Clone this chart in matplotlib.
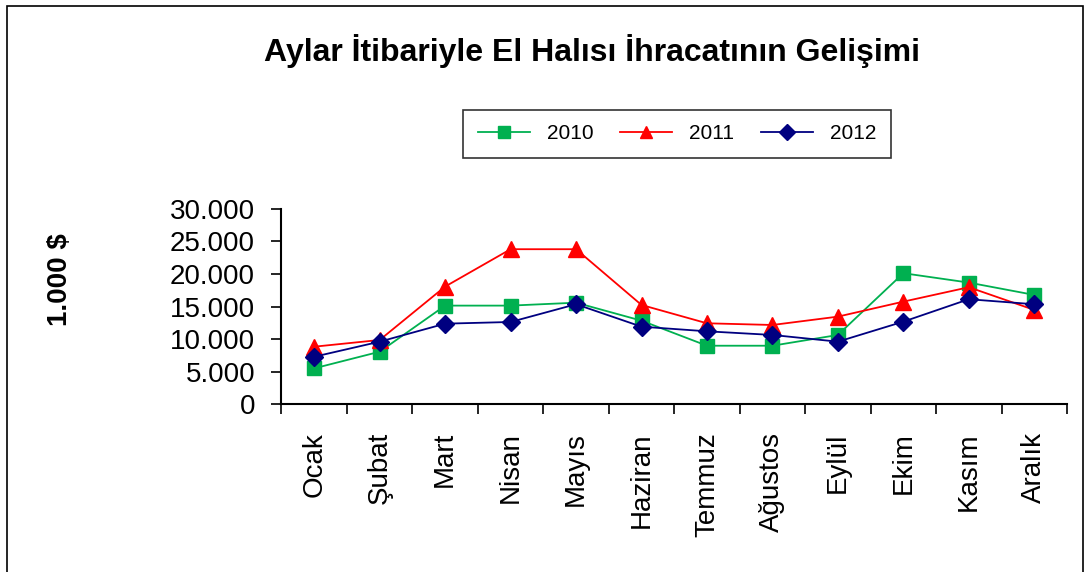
import matplotlib
matplotlib.use("Agg")
from matplotlib import pyplot as plt
from matplotlib.patches import Rectangle
from matplotlib.ticker import FuncFormatter
import numpy as np

plt.rcParams['font.family'] = ['Liberation Sans', 'DejaVu Sans']

months = ["Ocak", "Şubat", "Mart", "Nisan", "Mayıs", "Haziran",
          "Temmuz", "Ağustos", "Eylül", "Ekim", "Kasım", "Aralık"]
y2010 = [5530, 8080, 15150, 15150, 15600, 12840, 9000, 9000, 10650, 20120, 18680, 16790]
y2011 = [8850, 9880, 18070, 23800, 23800, 15250, 12440, 12180, 13460, 15760, 17970, 14490]
y2012 = [7310, 9620, 12380, 12640, 15360, 11920, 11210, 10650, 9620, 12690, 16130, 15360]

fig = plt.figure(figsize=(10.91, 5.72), dpi=100)
ax = fig.add_axes([0.258, 0.293, 0.72, 0.342])

x = np.arange(len(months))
ax.plot(x, y2010, color="#00B050", marker="s", markersize=10, lw=1.3, label="2010")
ax.plot(x, y2011, color="#FF0000", marker="^", markersize=12, lw=1.3, label="2011")
ax.plot(x, y2012, color="#000080", marker="D", markersize=9, lw=1.3, label="2012")

ax.set_xlim(-0.5, 11.5)
ax.set_ylim(0, 30000)
ax.set_yticks(range(0, 30001, 5000))
ax.yaxis.set_major_formatter(FuncFormatter(lambda v, p: f"{int(v):,}".replace(",", ".")))
ax.set_xticks(x)
ax.set_xticklabels(months, rotation=90, fontsize=20)
ax.set_xticks(np.arange(-0.5, 12, 1), minor=True)
ax.tick_params(axis="x", which="major", length=0, pad=20)
ax.tick_params(axis="x", which="minor", length=7, width=1.2, direction="out")
ax.tick_params(axis="y", labelsize=20, length=7, width=1.2, pad=12)
for s in ["top", "right"]:
    ax.spines[s].set_visible(False)
for s in ["left", "bottom"]:
    ax.spines[s].set_linewidth(1.5)

ax.set_ylabel("1.000 $", fontsize=20, fontweight="bold")
ax.yaxis.set_label_coords(-0.265, 0.636)

fig.text(0.543, 0.91, "Aylar İtibariyle El Halısı İhracatının Gelişimi",
         ha="center", va="center", fontsize=23, fontweight="bold")

leg = fig.legend(loc="center", bbox_to_anchor=(0.6205, 0.766), ncol=3, fontsize=15,
                 frameon=True, fancybox=False, edgecolor="black", handlelength=2.5,
                 columnspacing=1.3, borderpad=0.7)
leg.get_frame().set_linewidth(1.2)
for h in leg.legend_handles:
    h.set_markersize(8)

fig.patches.append(Rectangle((0.006, -0.1), 0.987, 1.09, transform=fig.transFigure,
                             fill=False, edgecolor="black", lw=1.2))

fig.savefig("out.png", dpi=100)
